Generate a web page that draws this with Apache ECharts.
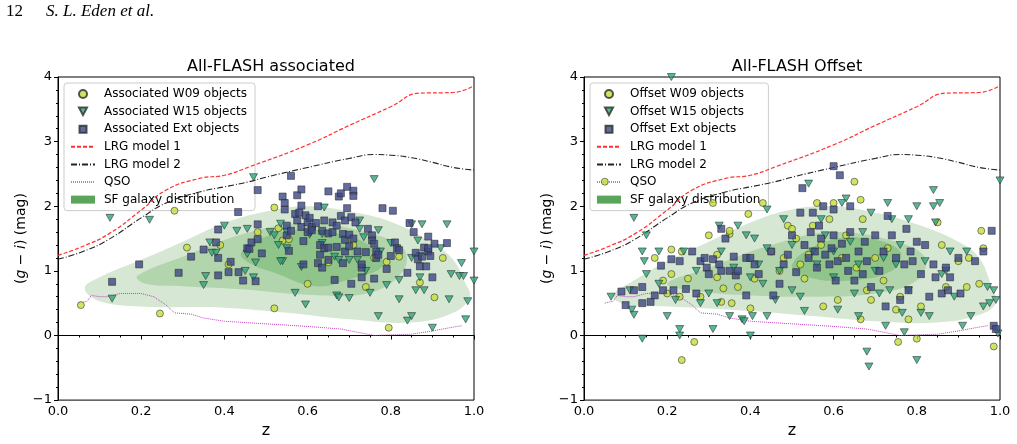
<!DOCTYPE html><html><head><meta charset="utf-8"><script src="https://cdn.jsdelivr.net/npm/echarts@6/dist/echarts.min.js"></script>
<style>body{margin:0;background:#fff}#c{width:1017px;height:444px}</style></head><body><div id="c"></div><script>
const xTicks=[0,0.2,0.4,0.6,0.8,1.0];
const yTicks=[-1,0,1,2,3,4];
const lrg1=[[0,1.24],[0.06,1.38],[0.124,1.58],[0.2,1.94],[0.26,2.25],[0.34,2.43],[0.4,2.48],[0.46,2.61],[0.6,2.95],[0.7,3.25],[0.8,3.54],[0.87,3.75],[0.95,3.76],[1.0,3.87]];
const lrg2=[[0,1.18],[0.06,1.3],[0.12,1.48],[0.2,1.82],[0.26,2.05],[0.34,2.22],[0.4,2.3],[0.46,2.38],[0.5,2.45],[0.6,2.6],[0.7,2.74],[0.76,2.8],[0.8,2.79],[0.85,2.75],[0.9,2.68],[0.95,2.6],[1.0,2.56]];
const qso=[[0.05,0.5],[0.07,0.53],[0.08,0.62],[0.1,0.6],[0.12,0.6],[0.15,0.65],[0.2,0.65],[0.23,0.6],[0.26,0.47],[0.28,0.35],[0.32,0.33],[0.35,0.27],[0.4,0.22],[0.5,0.18],[0.6,0.14],[0.68,0.1],[0.72,0.05],[0.76,0.0],[0.85,0.02],[0.9,0.07],[0.95,0.13],[0.97,0.15]];
const sfOuterA=[[0.064,0.73],[0.1,0.9],[0.2,1.17],[0.3,1.45],[0.4,1.74],[0.5,1.92],[0.6,2.0],[0.7,1.92],[0.8,1.76],[0.9,1.43],[0.95,1.17],[0.98,0.8],[0.99,0.6],[0.95,0.35],[0.85,0.2],[0.7,0.25],[0.55,0.35],[0.4,0.43],[0.2,0.45],[0.1,0.53]];
const sfMidA=[[0.19,0.92],[0.3,1.22],[0.45,1.58],[0.6,1.74],[0.75,1.58],[0.83,1.35],[0.83,1.0],[0.75,0.66],[0.6,0.63],[0.45,0.71],[0.3,0.76],[0.21,0.8]];
const sfInA=[[0.44,1.28],[0.5,1.53],[0.6,1.64],[0.7,1.53],[0.76,1.33],[0.78,1.07],[0.7,0.87],[0.62,0.76],[0.52,0.97],[0.46,1.12]];
const sfOuterB=[[0.07,0.62],[0.12,0.85],[0.2,1.15],[0.3,1.45],[0.4,1.75],[0.5,1.95],[0.6,2.0],[0.7,1.9],[0.8,1.72],[0.9,1.45],[0.95,1.2],[0.98,0.75],[0.99,0.5],[0.95,0.32],[0.85,0.2],[0.7,0.22],[0.55,0.3],[0.4,0.38],[0.2,0.45],[0.1,0.48]];
const sfMidB=[[0.2,0.8],[0.3,1.05],[0.45,1.4],[0.6,1.6],[0.75,1.45],[0.82,1.2],[0.8,0.85],[0.7,0.65],[0.55,0.6],[0.4,0.62],[0.28,0.68]];
const sfInB=[[0.5,1.1],[0.58,1.45],[0.68,1.5],[0.76,1.3],[0.74,1.0],[0.64,0.85],[0.54,0.9]];
const assocW09=[[0.055,0.47],[0.245,0.34],[0.28,1.93],[0.31,1.36],[0.39,1.4],[0.41,1.1],[0.48,1.6],[0.52,0.42],[0.52,1.98],[0.53,1.66],[0.54,1.47],[0.555,1.49],[0.6,0.8],[0.65,1.13],[0.71,1.4],[0.74,0.75],[0.76,1.2],[0.79,1.14],[0.795,0.12],[0.82,1.22],[0.87,0.82],[0.905,0.59],[0.925,1.2]];
const assocW15=[[0.125,1.82],[0.13,0.57],[0.22,1.79],[0.35,0.78],[0.355,0.92],[0.365,1.44],[0.37,1.28],[0.38,1.28],[0.4,1.7],[0.43,1.62],[0.45,1.0],[0.455,1.65],[0.47,2.45],[0.47,0.9],[0.475,1.13],[0.455,1.26],[0.51,1.6],[0.52,1.55],[0.53,1.4],[0.535,1.73],[0.54,1.15],[0.535,1.15],[0.55,1.35],[0.55,1.6],[0.57,0.66],[0.585,1.06],[0.595,0.48],[0.605,1.56],[0.61,1.62],[0.635,1.57],[0.635,1.43],[0.64,1.98],[0.665,1.22],[0.67,0.62],[0.675,0.59],[0.675,1.17],[0.7,1.17],[0.7,0.58],[0.72,1.17],[0.725,1.65],[0.725,1.78],[0.735,1.52],[0.74,1.0],[0.75,0.66],[0.76,2.42],[0.77,0.3],[0.77,1.63],[0.775,1.3],[0.79,0.78],[0.8,1.43],[0.82,0.86],[0.82,0.56],[0.84,0.23],[0.85,0.3],[0.85,1.72],[0.85,1.2],[0.86,0.7],[0.865,1.47],[0.87,0.9],[0.87,1.23],[0.875,1.72],[0.88,0.7],[0.9,0.12],[0.92,1.35],[0.935,1.72],[0.94,0.56],[0.945,0.95],[0.965,0.92],[0.97,1.12],[0.975,0.92],[0.98,0.25],[0.985,0.53],[1.0,1.3],[1.0,0.85]];
const assocExt=[[0.13,0.83],[0.195,1.1],[0.29,0.97],[0.32,1.22],[0.35,1.33],[0.38,1.44],[0.385,1.2],[0.385,1.64],[0.385,0.93],[0.41,0.98],[0.415,1.14],[0.433,1.91],[0.434,0.98],[0.445,0.85],[0.455,1.35],[0.46,1.34],[0.465,1.44],[0.475,0.84],[0.48,2.25],[0.48,1.72],[0.48,1.49],[0.49,1.27],[0.56,2.47],[0.54,2.15],[0.545,1.95],[0.545,2.05],[0.55,1.7],[0.55,1.55],[0.555,1.31],[0.56,1.62],[0.57,1.88],[0.575,1.78],[0.58,1.9],[0.575,2.17],[0.585,2.26],[0.585,2.01],[0.585,1.68],[0.59,1.46],[0.59,1.1],[0.595,1.86],[0.6,1.75],[0.6,1.6],[0.605,1.82],[0.61,1.68],[0.61,1.63],[0.62,1.74],[0.625,2.0],[0.625,1.12],[0.63,1.25],[0.635,1.05],[0.63,1.4],[0.635,1.62],[0.64,1.78],[0.64,1.35],[0.65,1.36],[0.65,1.58],[0.65,1.17],[0.65,2.23],[0.66,1.75],[0.66,1.6],[0.665,0.86],[0.67,1.37],[0.67,1.7],[0.675,2.15],[0.68,1.85],[0.68,2.2],[0.685,1.57],[0.685,1.12],[0.69,1.48],[0.69,1.3],[0.69,1.78],[0.695,2.3],[0.695,1.97],[0.7,1.56],[0.7,1.38],[0.705,0.8],[0.705,1.83],[0.71,2.24],[0.71,2.16],[0.71,1.5],[0.715,1.75],[0.72,1.3],[0.73,1.05],[0.73,0.9],[0.73,1.1],[0.74,1.29],[0.745,1.65],[0.755,1.55],[0.755,1.47],[0.76,1.42],[0.76,0.88],[0.765,1.2],[0.765,1.3],[0.77,1.25],[0.78,1.97],[0.79,1.03],[0.8,1.23],[0.805,1.93],[0.81,1.44],[0.815,1.35],[0.82,1.32],[0.84,0.97],[0.845,1.74],[0.855,1.6],[0.86,1.28],[0.865,1.18],[0.87,1.07],[0.875,1.22],[0.88,1.36],[0.885,1.07],[0.89,1.53],[0.89,1.3],[0.895,1.23],[0.9,0.9],[0.905,1.42],[0.935,1.43],[0.89,1.35]];
const offW09=[[0.05,2.38],[0.17,1.2],[0.19,0.85],[0.2,0.65],[0.21,1.33],[0.21,0.95],[0.23,0.6],[0.235,-0.38],[0.235,1.3],[0.25,0.88],[0.265,-0.1],[0.28,0.6],[0.3,1.55],[0.31,2.05],[0.32,0.9],[0.32,1.25],[0.33,0.52],[0.335,0.73],[0.35,1.57],[0.35,1.62],[0.355,0.5],[0.37,0.75],[0.395,1.88],[0.4,0.42],[0.41,0.88],[0.43,2.05],[0.45,1.3],[0.47,1.0],[0.48,1.2],[0.49,1.7],[0.5,1.65],[0.51,1.5],[0.52,1.1],[0.53,0.88],[0.54,1.25],[0.55,1.7],[0.56,2.05],[0.57,1.4],[0.575,0.45],[0.59,1.8],[0.6,2.05],[0.61,0.55],[0.62,1.2],[0.63,1.55],[0.65,2.38],[0.655,1.05],[0.665,0.25],[0.665,2.1],[0.67,1.8],[0.68,0.7],[0.69,0.55],[0.7,1.2],[0.72,0.85],[0.73,1.35],[0.75,0.4],[0.755,-0.1],[0.76,0.6],[0.78,0.25],[0.8,-0.05],[0.81,0.45],[0.85,1.75],[0.86,1.4],[0.87,0.75],[0.9,1.15],[0.925,1.2],[0.92,0.75],[0.95,0.8],[0.955,1.62],[0.96,1.35],[0.985,-0.17]];
const offW15=[[0.065,0.6],[0.11,0.7],[0.115,0.4],[0.12,1.82],[0.12,0.32],[0.14,1.3],[0.14,-0.05],[0.145,1.15],[0.15,1.55],[0.15,0.95],[0.18,0.8],[0.18,1.3],[0.2,0.3],[0.21,4.0],[0.23,0.1],[0.23,0.0],[0.24,1.3],[0.22,0.55],[0.27,1.0],[0.28,0.5],[0.3,0.65],[0.31,0.1],[0.32,0.5],[0.325,1.7],[0.33,1.3],[0.35,0.3],[0.36,1.05],[0.37,1.7],[0.38,0.25],[0.385,0.22],[0.39,1.55],[0.4,0.9],[0.4,0.0],[0.405,0.3],[0.41,1.5],[0.42,1.1],[0.43,0.8],[0.44,1.95],[0.44,1.35],[0.44,0.3],[0.46,0.55],[0.47,1.0],[0.48,1.8],[0.5,0.7],[0.5,1.4],[0.52,0.6],[0.53,0.38],[0.54,2.35],[0.55,1.3],[0.56,1.1],[0.57,1.8],[0.58,1.55],[0.6,1.3],[0.6,0.9],[0.61,0.4],[0.62,2.05],[0.63,2.12],[0.64,1.45],[0.65,0.65],[0.66,1.1],[0.66,0.3],[0.67,1.6],[0.68,-0.25],[0.685,-0.48],[0.69,1.9],[0.7,1.0],[0.71,0.65],[0.72,1.2],[0.725,0.15],[0.73,2.05],[0.735,0.7],[0.74,1.8],[0.75,1.1],[0.76,1.4],[0.765,0.35],[0.77,0.05],[0.78,1.8],[0.78,0.7],[0.8,2.0],[0.8,-0.38],[0.81,0.35],[0.82,1.15],[0.83,0.3],[0.84,2.25],[0.84,2.0],[0.845,1.75],[0.855,2.05],[0.86,0.95],[0.87,1.0],[0.88,1.3],[0.89,0.6],[0.91,0.15],[0.92,1.3],[0.93,0.3],[0.96,0.45],[0.97,0.75],[0.975,0.5],[0.99,0.55],[0.995,0.03],[1.0,2.4],[0.985,0.7]];
const offExt=[[0.09,0.68],[0.1,0.47],[0.12,0.7],[0.14,0.75],[0.14,0.5],[0.16,0.52],[0.17,0.62],[0.185,1.08],[0.19,0.7],[0.21,1.18],[0.215,0.7],[0.23,1.15],[0.245,0.72],[0.26,1.3],[0.27,0.65],[0.28,1.15],[0.29,1.2],[0.295,1.05],[0.3,0.95],[0.31,1.18],[0.325,1.1],[0.33,1.0],[0.33,1.65],[0.34,1.5],[0.35,1.0],[0.36,1.22],[0.365,0.93],[0.37,1.0],[0.39,1.2],[0.39,0.62],[0.4,1.2],[0.41,1.1],[0.42,0.95],[0.45,1.3],[0.455,0.62],[0.47,0.8],[0.48,1.1],[0.49,1.25],[0.5,1.55],[0.51,0.98],[0.52,1.9],[0.525,2.28],[0.53,1.4],[0.54,1.2],[0.545,1.6],[0.55,1.9],[0.555,1.3],[0.56,1.05],[0.565,1.7],[0.57,1.5],[0.575,2.0],[0.58,1.25],[0.59,1.1],[0.595,1.35],[0.6,2.62],[0.6,1.95],[0.6,1.55],[0.605,0.85],[0.61,1.15],[0.615,2.48],[0.62,1.42],[0.63,1.2],[0.635,1.0],[0.64,1.6],[0.64,2.0],[0.65,0.85],[0.66,1.3],[0.67,0.95],[0.675,1.45],[0.68,1.15],[0.69,0.75],[0.7,1.55],[0.71,1.0],[0.72,1.3],[0.725,0.45],[0.73,1.85],[0.74,1.55],[0.75,1.2],[0.76,0.55],[0.77,1.1],[0.775,1.65],[0.78,0.7],[0.785,1.3],[0.79,1.15],[0.8,1.45],[0.81,0.95],[0.82,1.4],[0.83,0.6],[0.84,1.1],[0.845,0.9],[0.86,0.65],[0.87,1.05],[0.875,0.7],[0.88,0.9],[0.9,1.2],[0.905,0.65],[0.94,1.15],[0.96,1.3],[0.98,1.62],[0.985,0.15],[0.99,0.1]];

const TRI='path://M0,0 L10,0 L5,9 Z';
const TRI_LEG='path://M0,0 L0.01,0 M23.99,8 L24,8 M8,0 L16,0 L12,7.5 Z';
const RECT_LEG='path://M0,0 L0.01,0 M23.99,8 L24,8 M8.5,0.5 L15.5,0.5 L15.5,7.5 L8.5,7.5 Z';
const C09='#c4dd3c',C15='#2ea57b',CEXT='#3c4787',EDGE='#2a2a2a';
const FONT='DejaVu Sans';
function axes(i){
  return {
    x:{type:'value',gridIndex:i,min:0,max:1,interval:0.2,name:'z',nameLocation:'middle',nameGap:22,
      nameTextStyle:{fontFamily:FONT,fontSize:16,color:'#000'},
      axisLine:{lineStyle:{color:'#000'}},axisTick:{length:4,lineStyle:{color:'#000'}},
      minorTick:{show:true,splitNumber:4,length:2,lineStyle:{color:'#000'}},
      axisLabel:{fontFamily:FONT,fontSize:13,color:'#000',formatter:v=>v.toFixed(1),margin:5},splitLine:{show:false}},
    y:{type:'value',gridIndex:i,min:-1,max:4,interval:1,name:'{p|(}{it|g}{p| − }{it|i}{p|) (mag)}',nameLocation:'middle',nameGap:30,nameRotate:90,
      nameTextStyle:{rich:{p:{fontFamily:FONT,fontSize:14,color:'#000'},it:{fontFamily:FONT,fontSize:14,fontStyle:'italic',color:'#000'}}},
      axisLine:{lineStyle:{color:'#000'}},axisTick:{length:4,lineStyle:{color:'#000'}},
      minorTick:{show:true,splitNumber:5,length:2,lineStyle:{color:'#000'}},
      axisLabel:{fontFamily:FONT,fontSize:13,color:'#000',margin:6,formatter:v=>v<0?'−'+(-v):String(v)},splitLine:{show:false}}
  };
}
const a0=axes(0),a1=axes(1);
function poly(name,i,arr,color,z){
  return {type:'custom',name:name,xAxisIndex:i,yAxisIndex:i,z:z,silent:true,data:[0],
    itemStyle:{color:'#5aa55a'},
    renderItem:(p,api)=>({type:'polygon',shape:{points:arr.map(d=>api.coord(d)),smooth:0.4},style:{fill:color}})};
}
function panel(i,pre,o,m,n,w09,w15,ext){
  const sf='SF galaxy distribution';
  return [
    poly(sf,i,o,'#d6e8d3',1),poly(sf,i,m,'#b2d5ae',2),poly(sf,i,n,'#8fc48a',3),
    {type:'line',name:'LRG model 1',xAxisIndex:i,yAxisIndex:i,data:lrg1,smooth:true,symbol:'none',z:4,itemStyle:{color:'#ff3030'},lineStyle:{color:'#ff3030',width:1.2,type:[4,2]}},
    {type:'line',name:'LRG model 2',xAxisIndex:i,yAxisIndex:i,data:lrg2,smooth:true,symbol:'none',z:4,itemStyle:{color:'#222'},lineStyle:{color:'#222',width:1.1,type:[6,2,1,2]}},
    {type:'line',name:'QSO',xAxisIndex:i,yAxisIndex:i,data:qso,symbol:'none',z:4,itemStyle:{color:'#c040c0'},lineStyle:{color:'#c040c0',width:1,type:[1,1]}},
    {type:'scatter',name:pre+' W09 objects',xAxisIndex:i,yAxisIndex:i,data:w09,symbol:'circle',symbolSize:7,z:5,itemStyle:{color:C09,borderColor:EDGE,borderWidth:0.7}},
    {type:'scatter',name:pre+' W15 objects',xAxisIndex:i,yAxisIndex:i,data:w15,symbol:TRI,symbolSize:[8,7],z:5,itemStyle:{color:C15,borderColor:EDGE,borderWidth:0.7}},
    {type:'scatter',name:pre+' Ext objects',xAxisIndex:i,yAxisIndex:i,data:ext,symbol:'rect',symbolSize:7,z:6,itemStyle:{color:CEXT,borderColor:EDGE,borderWidth:0.7}}
  ];
}
function legend(left,pre){
  const hid={opacity:0};
  return {orient:'vertical',left:left,top:83,padding:[5,8,5,6],itemGap:5.6,itemWidth:24,itemHeight:8,
    backgroundColor:'rgba(255,255,255,0.8)',borderColor:'#ccc',borderWidth:1,borderRadius:3,
    textStyle:{fontFamily:FONT,fontSize:12,color:'#000',padding:[0,0,0,4]},
    data:[{name:pre+' W09 objects',icon:'circle'},{name:pre+' W15 objects',icon:TRI_LEG},{name:pre+' Ext objects',icon:RECT_LEG},
      {name:'LRG model 1',itemStyle:hid},{name:'LRG model 2',itemStyle:hid},{name:'QSO',itemStyle:hid,lineStyle:{color:'#c040c0',width:1.5}},{name:'SF galaxy distribution',icon:'rect',itemStyle:{color:'#5aa55a',borderWidth:0}}]};
}
const chart=echarts.init(document.getElementById('c'));
chart.setOption({
  animation:false,
  title:[{text:'All-FLASH associated',left:266,textAlign:'center',top:54,textStyle:{fontFamily:FONT,fontSize:16,fontWeight:'normal',color:'#000'}},
         {text:'All-FLASH Offset',left:792,textAlign:'center',top:54,textStyle:{fontFamily:FONT,fontSize:16,fontWeight:'normal',color:'#000'}}],
  graphic:[{type:'text',left:6,top:3,style:{text:'12',font:'17px "Liberation Serif"',fill:'#000'}},
           {type:'text',left:46,top:3,style:{text:'S. L. Eden et al.',font:'italic 17px "Liberation Serif"',fill:'#000'}}],
  grid:[{left:58,top:77,width:416,height:324,show:true,borderColor:'#000',borderWidth:1},
        {left:584,top:77,width:416,height:324,show:true,borderColor:'#000',borderWidth:1}],
  xAxis:[a0.x,a1.x],yAxis:[a0.y,a1.y],
  legend:[legend(64,'Associated'),legend(590,'Offset')],
  series:[...panel(0,'Associated',sfOuterA,sfMidA,sfInA,assocW09,assocW15,assocExt),
          ...panel(1,'Offset',sfOuterB,sfMidB,sfInB,offW09,offW15,offExt)]
});
</script></body></html>
